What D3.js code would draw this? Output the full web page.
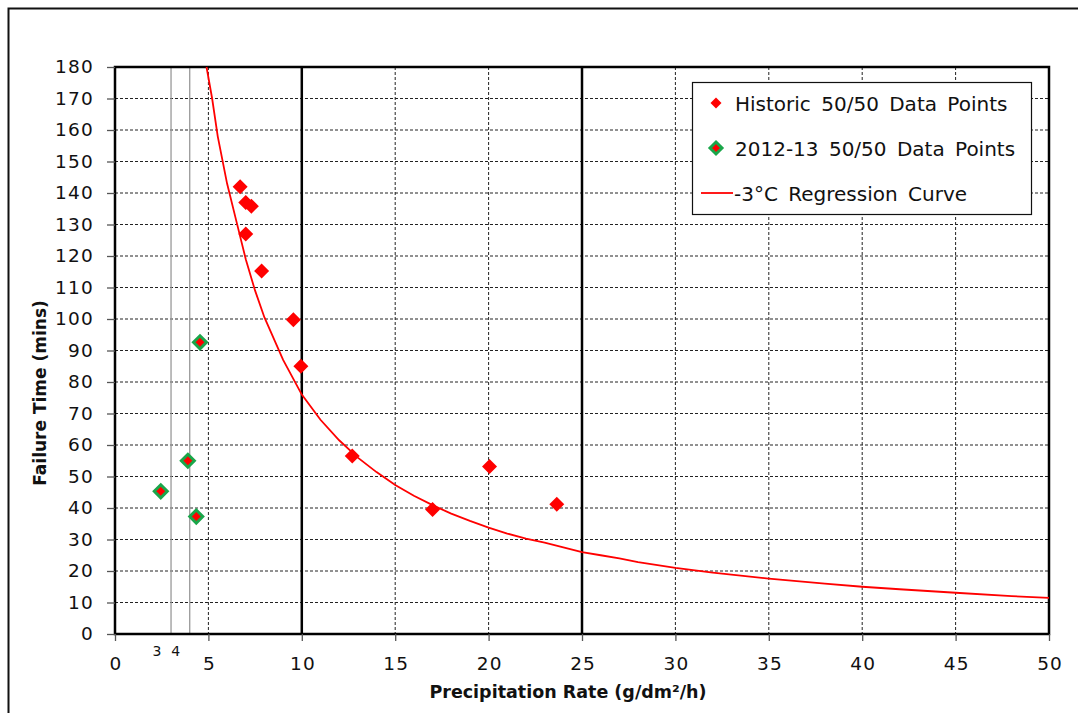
<!DOCTYPE html>
<html>
<head>
<meta charset="utf-8">
<script src="https://cdn.jsdelivr.net/npm/d3@7"></script>
<style>
  body { margin: 0; background: #fff; }
  svg { display: block; font-family: "DejaVu Sans", sans-serif; }
</style>
</head>
<body>
<div id="chart"></div>
<script>
// ---- data ----
const historicX = [6.7, 7.0, 7.3, 7.0, 7.85, 9.55, 9.95, 12.7, 17.0, 20.05, 23.65];
const historicY = [142, 137, 135.8, 127, 115.2, 99.8, 85, 56.5, 39.5, 53.2, 41.2];

const recentX = [2.45, 3.9, 4.55, 4.35];
const recentY = [45.3, 55.0, 92.6, 37.3];

const curveX = [4.9, 5.2, 5.5, 6, 6.5, 7, 7.5, 8, 9, 10, 11, 12, 13, 14, 15, 16, 17, 18, 19, 20,
                21, 22, 23, 24, 25, 26, 27, 28, 30, 32, 35, 38, 40, 42, 45, 48, 50];
const curveY = [180, 170, 158, 143, 131, 119, 109, 100.5, 87, 76, 68, 61.5, 56, 51.4, 47.3, 43.9, 40.9, 38.2, 35.9, 33.8,
                31.9, 30.3, 29, 27.5, 26, 25, 24, 22.8, 21, 19.5, 17.6, 16, 15, 14.2, 13.1, 12, 11.5];

const xTicks = [0, 5, 10, 15, 20, 25, 30, 35, 40, 45, 50];
const yTicks = d3.range(0, 181, 10);
const heavyX = [10, 25];       // solid black verticals
const grayX = [3, 4];          // thin grey verticals with small labels
const legendLabels = ["Historic 50/50 Data Points", "2012-13 50/50 Data Points", "-3°C Regression Curve"];

// ---- layout ----
const W = 1078, H = 713;
const m = { left: 115, right: 1049, top: 67, bottom: 634 };

const svg = d3.select("#chart").append("svg")
  .attr("width", W).attr("height", H);

// outer chart frame (right/bottom edges lie off-picture)
svg.append("rect")
  .attr("x", 8.5).attr("y", 8.5)
  .attr("width", W + 20).attr("height", H + 20)
  .attr("fill", "none").attr("stroke", "#111").attr("stroke-width", 2);

const x = d3.scaleLinear().domain([0, 50]).range([m.left, m.right]);
const y = d3.scaleLinear().domain([0, 180]).range([m.bottom, m.top]);

const grid = svg.append("g");

// horizontal dashed grid
grid.selectAll("line.hg")
  .data(yTicks.filter(d => d > 0 && d < 180))
  .join("line")
  .attr("x1", m.left).attr("x2", m.right)
  .attr("y1", d => y(d)).attr("y2", d => y(d))
  .attr("stroke", "#222").attr("stroke-width", 1)
  .attr("stroke-dasharray", "3,2");

// vertical dashed grid
grid.selectAll("line.vg")
  .data(xTicks.filter(d => d > 0 && d < 50 && !heavyX.includes(d)))
  .join("line")
  .attr("x1", d => x(d)).attr("x2", d => x(d))
  .attr("y1", m.top).attr("y2", m.bottom)
  .attr("stroke", "#222").attr("stroke-width", 1)
  .attr("stroke-dasharray", "3,2");

// grey lines at 3 and 4
grid.selectAll("line.gr")
  .data(grayX)
  .join("line")
  .attr("x1", d => x(d)).attr("x2", d => x(d))
  .attr("y1", m.top).attr("y2", m.bottom)
  .attr("stroke", "#999").attr("stroke-width", 1.3);

grid.selectAll("text.gr")
  .data(grayX)
  .join("text")
  .attr("x", d => x(d) - 14)
  .attr("y", 656)
  .attr("text-anchor", "middle")
  .attr("font-size", 14)
  .attr("fill", "#111")
  .text(d => d);

// heavy black verticals
grid.selectAll("line.hv")
  .data(heavyX)
  .join("line")
  .attr("x1", d => x(d)).attr("x2", d => x(d))
  .attr("y1", m.top).attr("y2", m.bottom)
  .attr("stroke", "#000").attr("stroke-width", 2.5);

// plot border
svg.append("rect")
  .attr("x", m.left).attr("y", m.top)
  .attr("width", m.right - m.left).attr("height", m.bottom - m.top)
  .attr("fill", "none").attr("stroke", "#000").attr("stroke-width", 2.5);

// axes
const yAxis = svg.append("g")
  .attr("transform", `translate(${m.left},0)`)
  .call(d3.axisLeft(y).tickValues(yTicks).tickSize(8).tickPadding(13));
const xAxis = svg.append("g")
  .attr("transform", `translate(0,${m.bottom})`)
  .call(d3.axisBottom(x).tickValues(xTicks).tickSize(7).tickPadding(16));

[yAxis, xAxis].forEach(a => {
  a.select(".domain").remove();
  a.selectAll(".tick line").attr("stroke", "#555").attr("stroke-width", 1.3);
  a.selectAll(".tick text")
    .attr("font-family", "DejaVu Sans, sans-serif")
    .attr("font-size", 18.5).attr("fill", "#111")
    .attr("letter-spacing", 1.2);
});
xAxis.selectAll(".tick text").attr("dx", 0.6);

// regression curve
const curve = curveX.map((d, i) => [d, curveY[i]]);
svg.append("path")
  .datum(curve)
  .attr("fill", "none")
  .attr("stroke", "#ff0000")
  .attr("stroke-width", 1.8)
  .attr("d", d3.line().x(d => x(d[0])).y(d => y(d[1])));

function diamondPath(r) {
  return `M0,${-r}L${r},0L0,${r}L${-r},0Z`;
}

// historic points
svg.append("g").selectAll("path")
  .data(historicX.map((d, i) => [d, historicY[i]]))
  .join("path")
  .attr("transform", d => `translate(${x(d[0])},${y(d[1])})`)
  .attr("d", diamondPath(7.5))
  .attr("fill", "#ff0000");

// 2012-13 points
svg.append("g").selectAll("path")
  .data(recentX.map((d, i) => [d, recentY[i]]))
  .join("path")
  .attr("transform", d => `translate(${x(d[0])},${y(d[1])})`)
  .attr("d", diamondPath(6.5))
  .attr("fill", "#ff0000")
  .attr("stroke", "#1aa64a")
  .attr("stroke-width", 3)
  .attr("stroke-linejoin", "miter");

// axis titles
svg.append("text")
  .attr("x", 568)
  .attr("y", 698)
  .attr("text-anchor", "middle")
  .attr("font-size", 17.5).attr("font-weight", "bold").attr("fill", "#111")
  .text("Precipitation Rate (g/dm²/h)");

svg.append("text")
  .attr("transform", `translate(46,393) rotate(-90)`)
  .attr("text-anchor", "middle")
  .attr("font-size", 17).attr("font-weight", "bold").attr("fill", "#111")
  .text("Failure Time (mins)");

// legend
const lg = svg.append("g");
lg.append("rect")
  .attr("x", 692.5).attr("y", 82.5)
  .attr("width", 339).attr("height", 132)
  .attr("fill", "#fff").attr("stroke", "#111").attr("stroke-width", 1.2);

const rowY = [103, 148, 193];
lg.append("path")
  .attr("transform", `translate(716,${rowY[0]})`)
  .attr("d", diamondPath(5.5)).attr("fill", "#ff0000");
lg.append("path")
  .attr("transform", `translate(716,${rowY[1]})`)
  .attr("d", diamondPath(6)).attr("fill", "#ff0000")
  .attr("stroke", "#1aa64a").attr("stroke-width", 3);
lg.append("line")
  .attr("x1", 701).attr("x2", 733)
  .attr("y1", rowY[2]).attr("y2", rowY[2])
  .attr("stroke", "#ff0000").attr("stroke-width", 1.8);

lg.selectAll("text")
  .data(legendLabels)
  .join("text")
  .attr("x", (d, i) => i === 2 ? 734 : 735)
  .attr("y", (d, i) => rowY[i] + 7.5)
  .attr("font-size", 20).attr("fill", "#111")
  .attr("word-spacing", 4)
  .text(d => d);
</script>
</body>
</html>
